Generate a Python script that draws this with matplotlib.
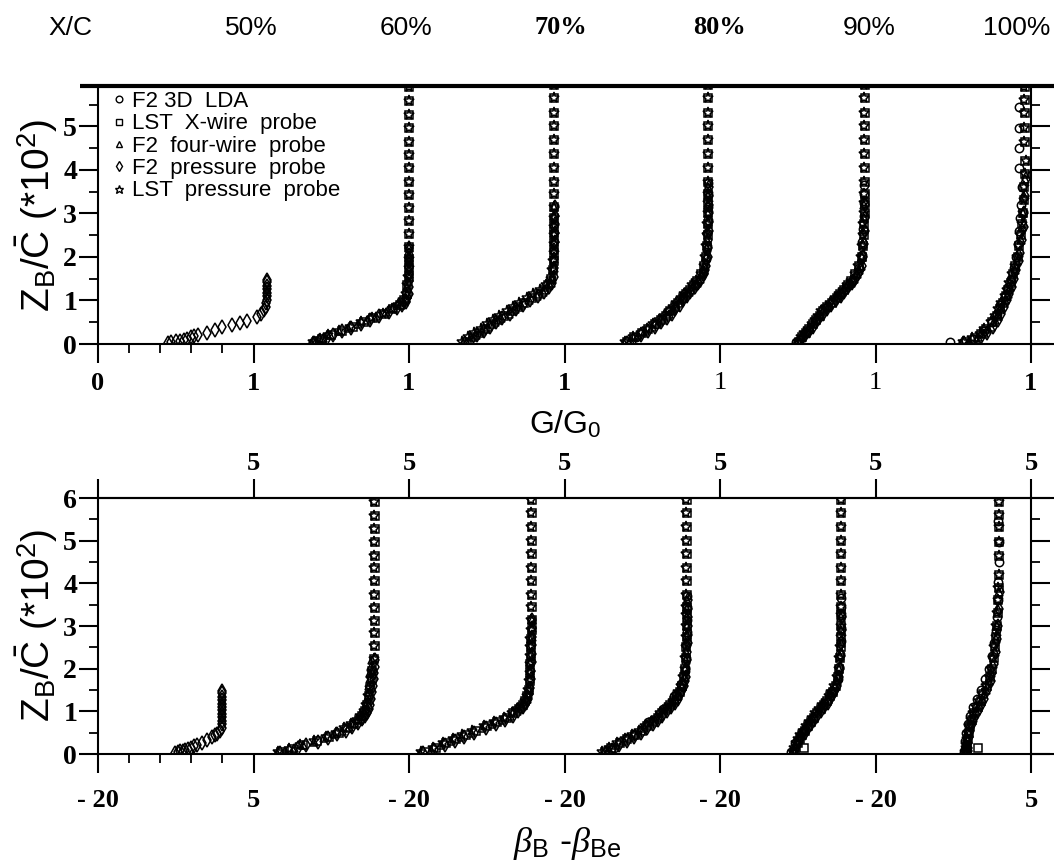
import numpy as np
import matplotlib
matplotlib.use('Agg')
import matplotlib.pyplot as plt
from matplotlib.lines import Line2D
from matplotlib.transforms import Bbox, TransformedBbox

plt.rcParams['mathtext.fontset'] = 'custom'
plt.rcParams['mathtext.rm'] = 'Liberation Sans'
plt.rcParams['mathtext.it'] = 'Liberation Serif:italic'
plt.rcParams['mathtext.bf'] = 'Liberation Sans:bold'

# stations (x/c) shown side by side
stations = ['50%', '60%', '70%', '80%', '90%', '100%']

# ---- 50 % : F2 pressure probe only
z50_p = [0.02, 0.04, 0.06, 0.08, 0.10, 0.12, 0.15, 0.18, 0.21, 0.26, 0.32, 0.39, 0.44, 0.48,
         0.54, 0.62, 0.70, 0.78, 0.86, 0.94, 1.02, 1.10, 1.18, 1.26, 1.34, 1.42, 1.48]
g50_p = [0.45, 0.47, 0.50, 0.53, 0.55, 0.57, 0.60, 0.62, 0.64, 0.70, 0.75, 0.80, 0.86, 0.91,
         0.96, 1.02, 1.05, 1.07, 1.08, 1.08, 1.09, 1.09, 1.09, 1.09, 1.09, 1.09, 1.09]
b50_p = [-7.7, -7.2, -6.8, -6.4, -6.0, -5.6, -5.1, -4.6, -4.1, -3.3, -2.5, -1.7, -1.2, -0.8,
         -0.4, -0.1, 0.0, 0.0, 0.0, 0.0, 0.0, 0.0, 0.0, 0.0, 0.0, 0.0, 0.0]

# ---- 60 %
zf60 = [0.03, 0.08, 0.14, 0.21, 0.29, 0.37, 0.46, 0.55, 0.64, 0.73, 0.82, 0.90, 0.97, 1.05,
        1.15, 1.30, 1.45, 1.60, 1.75, 1.90, 2.05, 2.20]
g60_4w = [0.37, 0.40, 0.45, 0.49, 0.55, 0.61, 0.67, 0.73, 0.79, 0.85, 0.90, 0.94, 0.97, 0.98,
          0.99, 0.99, 0.995, 1.0, 1.0, 1.0, 1.0, 1.0]
g60_p = [0.39, 0.42, 0.47, 0.51, 0.57, 0.63, 0.69, 0.75, 0.81, 0.87, 0.92, 0.955, 0.98, 0.99,
         1.0, 1.0, 1.0, 1.0, 1.0, 1.0, 1.0, 1.0]
b60_4w = [-16.3, -14.9, -13.5, -12.1, -10.3, -8.7, -7.1, -5.8, -4.7, -3.8, -3.2, -2.7, -2.3, -2.1,
          -1.9, -1.7, -1.5, -1.4, -1.3, -1.2, -1.1, -1.0]
b60_p = [-15.7, -14.3, -12.9, -11.5, -9.7, -8.1, -6.5, -5.2, -4.1, -3.2, -2.6, -2.1, -1.7, -1.5,
         -1.3, -1.1, -0.9, -0.8, -0.7, -0.6, -0.5, -0.4]
zl60 = [0.05, 0.12, 0.20, 0.30, 0.40, 0.50, 0.60, 0.70, 0.80, 0.90, 1.00, 1.15, 1.35, 1.55, 1.75,
        1.95, 2.23, 2.52, 2.83, 3.12, 3.43, 3.73, 4.05, 4.35, 4.65, 4.97, 5.27, 5.58, 5.90]
gx60 = [0.40, 0.44, 0.50, 0.57, 0.64, 0.71, 0.77, 0.84, 0.90, 0.94, 0.97, 0.985, 0.99, 1.0, 1.0,
        1.0, 1.0, 1.0, 1.0, 1.0, 1.0, 1.0, 1.0, 1.0, 1.0, 1.0, 1.0, 1.0, 1.0]
gs60 = [0.38, 0.43, 0.48, 0.55, 0.62, 0.69, 0.76, 0.83, 0.89, 0.93, 0.96, 0.98, 0.99, 0.995, 1.0,
        1.0, 1.0, 1.0, 1.0, 1.0, 1.0, 1.0, 1.0, 1.0, 1.0, 1.0, 1.0, 1.0, 1.0]
bx60 = [-15.5, -13.8, -12.0, -9.8, -7.9, -6.3, -5.0, -3.9, -3.1, -2.5, -2.1, -1.7, -1.4, -1.2, -1.0,
        -0.9, -0.6, -0.5, -0.5, -0.5, -0.5, -0.5, -0.5, -0.5, -0.5, -0.5, -0.5, -0.5, -0.5]
bs60 = [-16.0, -14.3, -12.5, -10.3, -8.4, -6.8, -5.4, -4.3, -3.4, -2.8, -2.3, -1.9, -1.6, -1.3, -1.1,
        -1.0, -0.7, -0.6, -0.6, -0.6, -0.6, -0.6, -0.6, -0.6, -0.6, -0.6, -0.6, -0.6, -0.6]

# ---- 70 %
zf70 = [0.03, 0.10, 0.20, 0.30, 0.40, 0.50, 0.60, 0.70, 0.80, 0.90, 1.00, 1.10, 1.20, 1.30, 1.40,
        1.55, 1.75, 1.95, 2.15, 2.35, 2.55, 2.75, 2.95, 3.15]
g70_4w = [0.35, 0.39, 0.43, 0.47, 0.51, 0.55, 0.59, 0.64, 0.68, 0.72, 0.77, 0.82, 0.86, 0.89, 0.91,
          0.92, 0.93, 0.93, 0.93, 0.93, 0.93, 0.93, 0.93, 0.93]
g70_p = [0.36, 0.40, 0.44, 0.48, 0.52, 0.56, 0.60, 0.65, 0.69, 0.73, 0.78, 0.83, 0.87, 0.90, 0.92,
         0.93, 0.935, 0.935, 0.935, 0.94, 0.94, 0.94, 0.94, 0.94]
b70_4w = [-18.3, -16.5, -14.8, -13.2, -11.7, -10.1, -8.3, -6.6, -5.0, -3.7, -2.7, -2.0, -1.5, -1.1,
          -0.9, -0.7, -0.6, -0.5, -0.5, -0.4, -0.4, -0.3, -0.3, -0.3]
b70_p = [-17.8, -16.0, -14.2, -12.6, -11.1, -9.5, -7.7, -6.0, -4.5, -3.3, -2.4, -1.7, -1.2, -0.9,
         -0.7, -0.5, -0.4, -0.4, -0.3, -0.3, -0.3, -0.2, -0.2, -0.2]
zl70 = [0.05, 0.15, 0.25, 0.35, 0.45, 0.55, 0.65, 0.75, 0.85, 0.95, 1.05, 1.15, 1.25, 1.35, 1.50,
        1.70, 1.90, 2.10, 2.30, 2.50, 2.70, 2.90, 3.15, 3.44, 3.73, 4.05, 4.37, 4.68, 5.00, 5.32,
        5.66, 5.95]
gx70 = [0.37, 0.41, 0.45, 0.49, 0.53, 0.57, 0.61, 0.66, 0.70, 0.74, 0.79, 0.83, 0.87, 0.895, 0.915,
        0.925, 0.93, 0.93, 0.93, 0.93, 0.93, 0.93, 0.93, 0.93, 0.93, 0.93, 0.93, 0.93, 0.93, 0.93,
        0.93, 0.93]
gs70 = [0.34, 0.38, 0.42, 0.46, 0.50, 0.54, 0.58, 0.63, 0.67, 0.71, 0.76, 0.80, 0.84, 0.88, 0.91,
        0.92, 0.925, 0.93, 0.93, 0.93, 0.93, 0.93, 0.93, 0.93, 0.93, 0.93, 0.93, 0.93, 0.93, 0.93,
        0.93, 0.93]
bx70 = [-17.5, -15.6, -14.0, -12.4, -10.9, -9.2, -7.4, -5.8, -4.3, -3.2, -2.3, -1.7, -1.3, -1.0,
        -0.7, -0.6, -0.5, -0.5, -0.4, -0.4, -0.4, -0.3, -0.3, -0.3, -0.3, -0.3, -0.3, -0.3, -0.3,
        -0.3, -0.3, -0.3]
bs70 = [-18.0, -16.2, -14.5, -12.9, -11.4, -9.8, -8.0, -6.3, -4.8, -3.5, -2.6, -1.9, -1.4, -1.1,
        -0.8, -0.7, -0.6, -0.6, -0.5, -0.5, -0.5, -0.4, -0.4, -0.4, -0.4, -0.4, -0.4, -0.4, -0.4,
        -0.4, -0.4, -0.4]

# ---- 80 %
zf80 = [0.03, 0.10, 0.20, 0.30, 0.40, 0.50, 0.60, 0.70, 0.80, 0.90, 1.00, 1.10, 1.20, 1.30, 1.40,
        1.50, 1.60, 1.70, 1.80, 2.00, 2.20, 2.40, 2.60, 2.80, 3.00, 3.20, 3.40, 3.60]
g80_4w = [0.38, 0.42, 0.47, 0.52, 0.56, 0.61, 0.64, 0.67, 0.70, 0.72, 0.745, 0.77, 0.80, 0.825,
          0.85, 0.87, 0.885, 0.895, 0.90, 0.91, 0.915, 0.915, 0.915, 0.92, 0.92, 0.92, 0.92, 0.92]
g80_p = [0.40, 0.44, 0.49, 0.54, 0.58, 0.62, 0.66, 0.69, 0.71, 0.74, 0.76, 0.79, 0.81, 0.84, 0.86,
         0.88, 0.895, 0.905, 0.91, 0.92, 0.925, 0.925, 0.93, 0.93, 0.93, 0.93, 0.93, 0.93]
b80_4w = [-13.8, -12.9, -11.8, -10.5, -9.3, -8.2, -7.2, -6.3, -5.4, -4.7, -4.0, -3.3, -2.7, -2.2,
          -1.8, -1.4, -1.1, -0.9, -0.8, -0.6, -0.5, -0.45, -0.4, -0.35, -0.3, -0.3, -0.3, -0.3]
b80_p = [-13.3, -12.4, -11.3, -10.0, -8.8, -7.7, -6.7, -5.8, -5.0, -4.3, -3.6, -2.9, -2.3, -1.8,
         -1.4, -1.1, -0.8, -0.6, -0.5, -0.4, -0.3, -0.3, -0.2, -0.2, -0.2, -0.2, -0.2, -0.2]
zd80 = [0.15, 0.45, 0.75, 1.05, 1.35, 1.65, 1.95, 2.25, 2.55, 2.85, 3.15, 3.45, 3.70]
gd80 = [0.46, 0.59, 0.67, 0.76, 0.84, 0.89, 0.91, 0.915, 0.915, 0.92, 0.92, 0.92, 0.92]
bd80 = [-12.1, -8.8, -6.5, -4.2, -2.4, -1.2, -0.7, -0.5, -0.4, -0.35, -0.3, -0.3, -0.3]
zl80 = [0.05, 0.15, 0.25, 0.35, 0.45, 0.55, 0.65, 0.75, 0.85, 0.95, 1.05, 1.15, 1.25, 1.35, 1.45,
        1.60, 1.80, 2.00, 2.25, 2.50, 2.75, 3.00, 3.25, 3.45, 3.73, 4.05, 4.37, 4.68, 5.00, 5.32,
        5.66, 5.95]
gx80 = [0.40, 0.45, 0.50, 0.54, 0.58, 0.62, 0.65, 0.68, 0.71, 0.73, 0.76, 0.78, 0.81, 0.83, 0.855,
        0.88, 0.90, 0.91, 0.915, 0.92, 0.92, 0.92, 0.925, 0.925, 0.925, 0.925, 0.925, 0.925, 0.925,
        0.925, 0.925, 0.925]
gs80 = [0.39, 0.44, 0.49, 0.53, 0.57, 0.61, 0.64, 0.67, 0.70, 0.72, 0.75, 0.77, 0.80, 0.82, 0.845,
        0.875, 0.895, 0.905, 0.91, 0.915, 0.915, 0.92, 0.92, 0.925, 0.925, 0.925, 0.925, 0.925,
        0.925, 0.925, 0.925, 0.925]
bx80 = [-13.5, -12.5, -11.1, -9.9, -8.7, -7.6, -6.7, -5.8, -5.0, -4.3, -3.6, -3.0, -2.4, -1.9,
        -1.5, -1.1, -0.8, -0.6, -0.5, -0.4, -0.35, -0.3, -0.3, -0.3, -0.3, -0.3, -0.3, -0.3, -0.3,
        -0.3, -0.3, -0.3]
bs80 = [-13.9, -12.9, -11.6, -10.3, -9.1, -8.0, -7.0, -6.1, -5.3, -4.6, -3.9, -3.2, -2.6, -2.1,
        -1.7, -1.3, -0.9, -0.7, -0.6, -0.5, -0.4, -0.4, -0.4, -0.4, -0.4, -0.4, -0.4, -0.4, -0.4,
        -0.4, -0.4, -0.4]

# ---- 90 %
zf90 = [0.03, 0.10, 0.20, 0.30, 0.40, 0.50, 0.60, 0.70, 0.80, 0.90, 1.00, 1.10, 1.20, 1.30, 1.40,
        1.50, 1.60, 1.70, 1.80, 2.00, 2.30, 2.60, 2.90, 3.20]
g90_4w = [0.49, 0.51, 0.535, 0.56, 0.58, 0.605, 0.625, 0.645, 0.67, 0.70, 0.73, 0.76, 0.785, 0.81,
          0.84, 0.86, 0.88, 0.895, 0.905, 0.912, 0.918, 0.922, 0.925, 0.926]
g90_p = [0.50, 0.52, 0.545, 0.57, 0.595, 0.615, 0.635, 0.66, 0.685, 0.715, 0.745, 0.775, 0.80,
         0.825, 0.85, 0.87, 0.89, 0.90, 0.91, 0.92, 0.925, 0.93, 0.93, 0.93]
b90_4w = [-8.5, -8.3, -8.0, -7.7, -7.3, -6.9, -6.4, -5.9, -5.4, -4.9, -4.3, -3.8, -3.2, -2.7, -2.3,
          -1.9, -1.5, -1.2, -1.0, -0.8, -0.7, -0.6, -0.5, -0.5]
b90_p = [-8.1, -7.9, -7.6, -7.3, -6.9, -6.4, -5.9, -5.4, -4.9, -4.4, -3.8, -3.3, -2.7, -2.3, -1.9,
         -1.5, -1.2, -1.0, -0.8, -0.7, -0.6, -0.5, -0.4, -0.4]
zd90 = [0.05, 0.25, 0.55, 0.85, 1.15, 1.45, 1.75, 2.05, 2.35, 2.65, 2.95, 3.25, 3.45, 3.65]
gd90 = [0.49, 0.55, 0.62, 0.69, 0.77, 0.85, 0.895, 0.91, 0.915, 0.92, 0.925, 0.925, 0.925, 0.925]
bd90 = [-8.6, -7.9, -6.6, -5.1, -3.5, -2.1, -1.1, -0.8, -0.7, -0.6, -0.5, -0.5, -0.5, -0.5]
zl90 = [0.05, 0.15, 0.25, 0.35, 0.45, 0.55, 0.65, 0.75, 0.85, 0.95, 1.05, 1.15, 1.25, 1.35, 1.45,
        1.60, 1.80, 2.00, 2.25, 2.50, 2.75, 3.00, 3.25, 3.45, 3.73, 4.05, 4.37, 4.68, 5.00, 5.32,
        5.66, 5.95]
gx90 = [0.51, 0.53, 0.55, 0.575, 0.60, 0.62, 0.64, 0.66, 0.69, 0.72, 0.75, 0.77, 0.80, 0.82, 0.845,
        0.87, 0.895, 0.91, 0.92, 0.925, 0.925, 0.93, 0.93, 0.93, 0.93, 0.93, 0.93, 0.93, 0.93, 0.93,
        0.93, 0.93]
gs90 = [0.50, 0.52, 0.54, 0.565, 0.59, 0.61, 0.63, 0.65, 0.68, 0.71, 0.74, 0.765, 0.79, 0.815,
        0.84, 0.865, 0.89, 0.905, 0.915, 0.92, 0.92, 0.925, 0.925, 0.925, 0.925, 0.925, 0.925,
        0.925, 0.925, 0.925, 0.925, 0.925]
bx90 = [-8.0, -6.5, -7.5, -7.2, -6.8, -6.4, -5.9, -5.4, -4.9, -4.4, -3.8, -3.3, -2.8, -2.3, -1.9,
        -1.4, -1.0, -0.8, -0.7, -0.6, -0.5, -0.5, -0.5, -0.5, -0.5, -0.5, -0.5, -0.5, -0.5, -0.5,
        -0.5, -0.5]
bs90 = [-8.3, -8.1, -7.8, -7.5, -7.1, -6.7, -6.2, -5.7, -5.2, -4.7, -4.1, -3.6, -3.0, -2.5, -2.1,
        -1.6, -1.2, -0.9, -0.8, -0.7, -0.6, -0.6, -0.6, -0.6, -0.6, -0.6, -0.6, -0.6, -0.6, -0.6,
        -0.6, -0.6]

# ---- 100 %
zf100 = [0.03, 0.08, 0.15, 0.25, 0.40, 0.55, 0.70, 0.85, 1.00, 1.15, 1.30, 1.50, 1.70, 1.90, 2.10,
         2.40, 2.70, 3.00, 3.40, 3.80]
g100_4w = [0.55, 0.60, 0.66, 0.70, 0.74, 0.77, 0.79, 0.81, 0.83, 0.85, 0.865, 0.88, 0.895, 0.91,
           0.92, 0.935, 0.945, 0.95, 0.957, 0.962]
g100_p = [0.57, 0.62, 0.68, 0.72, 0.755, 0.785, 0.805, 0.825, 0.845, 0.86, 0.875, 0.89, 0.905,
          0.92, 0.93, 0.942, 0.952, 0.958, 0.963, 0.967]
b100_4w = [-5.6, -5.5, -5.45, -5.4, -5.3, -5.1, -4.8, -4.4, -3.9, -3.4, -2.9, -2.3, -1.8, -1.4,
           -1.1, -0.8, -0.6, -0.45, -0.3, -0.15]
b100_p = [-5.3, -5.2, -5.15, -5.1, -5.0, -4.8, -4.5, -4.1, -3.6, -3.1, -2.6, -2.0, -1.5, -1.2,
          -0.9, -0.6, -0.45, -0.3, -0.2, -0.05]
zd100 = [0.05, 0.12, 0.30, 0.50, 0.70, 0.90, 1.10, 1.30, 1.50, 1.75, 2.00, 2.30, 2.60, 2.90, 3.20,
         3.60, 4.04, 4.50, 4.96, 5.45]
gd100 = [0.48, 0.63, 0.70, 0.75, 0.78, 0.80, 0.83, 0.855, 0.87, 0.89, 0.905, 0.915, 0.925, 0.93,
         0.935, 0.94, 0.92, 0.92, 0.92, 0.92]
bd100 = [-5.8, -5.6, -5.6, -5.5, -5.2, -4.8, -4.3, -3.7, -3.1, -2.4, -1.8, -1.3, -0.9, -0.7, -0.5,
         -0.3, -0.3, -0.2, -0.2, -0.3]
zl100 = [0.05, 0.13, 0.22, 0.35, 0.50, 0.65, 0.80, 0.95, 1.10, 1.25, 1.40, 1.60, 1.80, 2.00, 2.25,
         2.50, 2.75, 3.00, 3.30, 3.60, 3.90, 4.20, 4.64, 4.96, 5.31, 5.61, 5.90]
gx100 = [0.58, 0.64, 0.68, 0.71, 0.75, 0.78, 0.80, 0.82, 0.84, 0.855, 0.87, 0.885, 0.90, 0.915,
         0.925, 0.935, 0.945, 0.95, 0.955, 0.958, 0.96, 0.962, 0.96, 0.96, 0.96, 0.96, 0.96]
gs100 = [0.56, 0.62, 0.67, 0.70, 0.74, 0.77, 0.79, 0.81, 0.83, 0.845, 0.86, 0.88, 0.895, 0.91,
         0.92, 0.93, 0.94, 0.947, 0.953, 0.958, 0.962, 0.965, 0.955, 0.955, 0.955, 0.955, 0.955]
bx100 = [-5.4, -3.5, -5.3, -5.2, -5.0, -4.8, -4.5, -4.1, -3.6, -3.1, -2.7, -2.1, -1.6, -1.3, -1.0,
         -0.8, -0.6, -0.5, -0.35, -0.25, -0.2, -0.2, -0.2, -0.2, -0.2, -0.2, -0.2]
bs100 = [-5.6, -5.5, -5.45, -5.35, -5.2, -5.0, -4.7, -4.3, -3.8, -3.3, -2.9, -2.3, -1.8, -1.4,
         -1.1, -0.9, -0.7, -0.55, -0.4, -0.3, -0.25, -0.2, -0.2, -0.2, -0.2, -0.2, -0.2]

legend_labels = ['F2 3D  LDA', 'LST  X-wire  probe', 'F2  four-wire  probe',
                 'F2  pressure  probe', 'LST  pressure  probe']

# marker per instrument
markers = {'lda': ('o', 6.0), 'xw': ('s', 5.4), 'fw': ('^', 6.0),
           'fp': ('d', 7.0), 'lp': ('*', 8.0)}

# (station index, heights, G/G0, beta-beta_e, instrument)
series = [
    (0, z50_p, g50_p, b50_p, 'fp'),
    (1, zf60, g60_4w, b60_4w, 'fw'), (1, zf60, g60_p, b60_p, 'fp'),
    (1, zl60, gx60, bx60, 'xw'), (1, zl60, gs60, bs60, 'lp'),
    (2, zf70, g70_4w, b70_4w, 'fw'), (2, zf70, g70_p, b70_p, 'fp'),
    (2, zl70, gx70, bx70, 'xw'), (2, zl70, gs70, bs70, 'lp'),
    (3, zf80, g80_4w, b80_4w, 'fw'), (3, zf80, g80_p, b80_p, 'fp'),
    (3, zd80, gd80, bd80, 'lda'),
    (3, zl80, gx80, bx80, 'xw'), (3, zl80, gs80, bs80, 'lp'),
    (4, zf90, g90_4w, b90_4w, 'fw'), (4, zf90, g90_p, b90_p, 'fp'),
    (4, zd90, gd90, bd90, 'lda'),
    (4, zl90, gx90, bx90, 'xw'), (4, zl90, gs90, bs90, 'lp'),
    (5, zf100, g100_4w, b100_4w, 'fw'), (5, zf100, g100_p, b100_p, 'fp'),
    (5, zd100, gd100, bd100, 'lda'),
    (5, zl100, gx100, bx100, 'xw'), (5, zl100, gs100, bs100, 'lp'),
]

W, H = 1054.0, 866.0


def fx(px):
    return px / W


def fy(py):
    return 1 - py / H


serif_b = dict(family='Liberation Serif', weight='bold')
sans = 'Liberation Sans'

fig = plt.figure(figsize=(10.54, 8.66), dpi=100)
ax1 = fig.add_axes([fx(98), fy(344), fx(1031) - fx(98), fy(86) - fy(344)])
ax2 = fig.add_axes([fx(98), fy(754), fx(1031) - fx(98), fy(498) - fy(754)])

for i, z, g, b, key in series:
    m, ms = markers[key]
    style = dict(ls='none', marker=m, ms=ms, mfc='none', mec='k', mew=1.1)
    ax1.plot(i + np.array(g), z, **style)
    ax2.plot(25 * i + 20 + np.array(b), z, **style)

for ax in (ax1, ax2):
    for s in ax.spines.values():
        s.set_linewidth(1.5)
    ax.tick_params(which='major', length=13.5, width=1.5, direction='out')
    ax.tick_params(which='minor', length=6.5, width=1.3, direction='out')
    ax.tick_params(axis='y', left=True, right=True, which='both', labelsize=20, pad=1.5)

# top panel: G/G0
ax1.set_xlim(0, 6)
ax1.set_ylim(0, 5.93)
ax1.spines['top'].set_visible(False)
ax1.set_xticks(range(7))
ax1.set_xticks([0.2, 0.4, 0.6, 0.8], minor=True)
ax1.set_yticks(range(6))
ax1.set_yticks([0.5, 1.5, 2.5, 3.5, 4.5, 5.5], minor=True)
ax1.set_yticklabels([str(v) for v in range(6)], fontsize=20, **serif_b)
ax1.set_xticklabels(['0', '1', '1', '1', '1', '1', '1'], fontsize=19, **serif_b)
ax1.tick_params(axis='x', pad=7)
for k in (4, 5):
    ax1.get_xticklabels()[k].set_fontweight('normal')

# bottom panel: beta_B - beta_Be
ax2.set_xlim(0, 150)
ax2.set_ylim(0, 6)
ax2.set_xticks(range(0, 151, 25))
ax2.set_xticks([5, 10, 15, 20], minor=True)
ax2.set_yticks(range(7))
ax2.set_yticks([0.5, 1.5, 2.5, 3.5, 4.5, 5.5], minor=True)
ax2.set_yticklabels([str(v) for v in range(7)], fontsize=20, **serif_b)
ax2.set_xticklabels(['- 20', '5', '- 20', '- 20', '- 20', '- 20', '5'], fontsize=19, **serif_b)
ax2.tick_params(axis='x', pad=12)
sec = ax2.secondary_xaxis('top')
sec.spines['top'].set_linewidth(1.5)
sec.set_xticks(range(0, 151, 25))
sec.set_xticklabels(['', '5', '5', '5', '5', '5', '5'], fontsize=19, **serif_b)
sec.tick_params(length=13.5, width=1.5, direction='out', pad=3)

# frame lines that run past the plotting boxes
fig.add_artist(Line2D([fx(80), fx(1054)], [fy(86), fy(86)], transform=fig.transFigure,
                      color='k', lw=3.0, solid_capstyle='butt'))
for yy in (344, 498, 754):
    fig.add_artist(Line2D([fx(1031), fx(1054)], [fy(yy), fy(yy)], transform=fig.transFigure,
                          color='k', lw=1.5, solid_capstyle='butt'))

# "6" label of the top panel, cut by the heavy top line
t6 = fig.text(fx(77), fy(82), '6', ha='right', va='center', fontsize=20, **serif_b)
t6.set_clip_box(TransformedBbox(Bbox([[0, 0], [1, fy(88)]]), fig.transFigure))
t6.set_clip_on(True)

# legend
handles = [Line2D([], [], ls='none', marker=markers[k][0], ms=markers[k][1] * 0.8, mfc='none',
                  mec='k', mew=1.0) for k in ('lda', 'xw', 'fw', 'fp', 'lp')]
ax1.legend(handles, legend_labels, loc='upper left', bbox_to_anchor=(fx(112), fy(91)),
           bbox_transform=fig.transFigure, frameon=False, handlelength=0.6,
           handletextpad=0.3, labelspacing=0.06, borderpad=0, borderaxespad=0,
           prop=dict(family=sans, size=16))

# axis labels
ylab = r'Z$_{\mathrm{B}}$/$\bar{\mathrm{C}}$ (*10$^{2}$)'
fig.text(fx(37), fy(215), ylab, rotation=90, ha='center', va='center', fontsize=28,
         family=sans)
fig.text(fx(37), fy(625), ylab, rotation=90, ha='center', va='center', fontsize=28,
         family=sans)
fig.text(fx(565), fy(425), r'G/G$_{0}$', ha='center', va='center', fontsize=23, family=sans)
fig.text(fx(567), fy(843), r'$\beta_{\mathrm{B}}$ -$\beta_{\mathrm{Be}}$', ha='center',
         va='center', fontsize=26, family=sans)

# station header
fig.text(fx(70), fy(28), 'X/C', ha='center', va='center', fontsize=19, family=sans)
head_x = [251, 406, 561, 719, 869, 1021]
for name, hx in zip(stations, head_x):
    if name in ('70%', '80%'):
        fig.text(fx(hx), fy(28), name, ha='center', va='center', fontsize=19, **serif_b)
    elif name == '100%':
        fig.text(fx(1050), fy(28), name, ha='right', va='center', fontsize=19, family=sans)
    else:
        fig.text(fx(hx), fy(28), name, ha='center', va='center', fontsize=19, family=sans)

fig.savefig('out.png', dpi=100)
